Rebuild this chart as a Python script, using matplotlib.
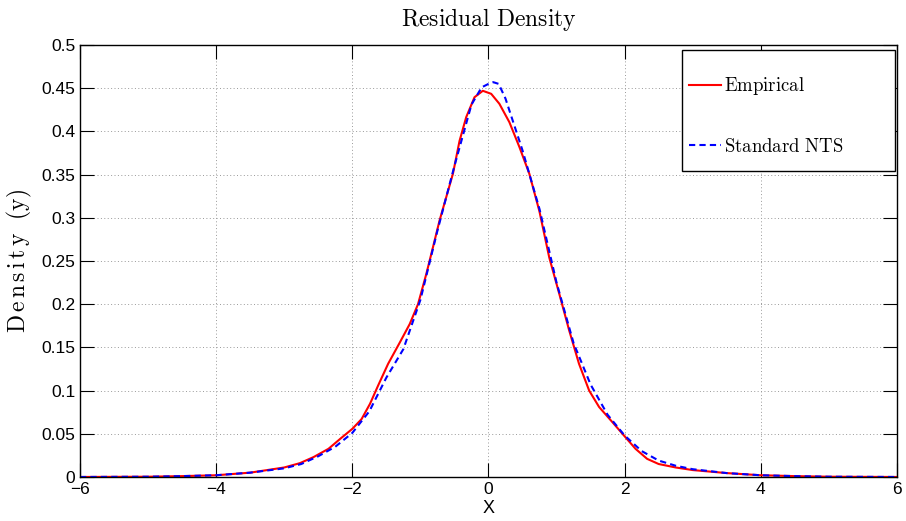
import numpy as np
import matplotlib
matplotlib.use("Agg")
import matplotlib.pyplot as plt
from matplotlib.patches import Rectangle

plt.rcParams["mathtext.fontset"] = "cm"
plt.rcParams["font.family"] = "Liberation Sans"

# empirical residual density
emp_x = [-6, -5, -4.5, -4, -3.5, -3, -2.77, -2.57, -2.35, -2.18, -2.0, -1.864, -1.74,
         -1.62, -1.474, -1.30, -1.157, -1.035, -0.913, -0.815, -0.718, -0.62, -0.522,
         -0.425, -0.327, -0.205, -0.083, 0.04, 0.16, 0.307, 0.454, 0.60, 0.747, 0.893,
         1.04, 1.186, 1.33, 1.479, 1.625, 1.82, 1.99, 2.16, 2.33, 2.5, 2.75, 3, 3.5,
         4, 4.5, 5, 6]
emp_y = [0, 0.0003, 0.001, 0.002, 0.005, 0.011, 0.016, 0.023, 0.0326, 0.044, 0.0557,
         0.067, 0.0847, 0.106, 0.131, 0.156, 0.177, 0.2, 0.235, 0.266, 0.297, 0.324,
         0.351, 0.389, 0.4165, 0.4396, 0.447, 0.4435, 0.432, 0.4107, 0.382, 0.351,
         0.308, 0.254, 0.212, 0.1695, 0.131, 0.100, 0.081, 0.0635, 0.048, 0.0326,
         0.021, 0.015, 0.011, 0.008, 0.0045, 0.002, 0.001, 0.0003, 0]

# standard NTS density
nts_x = [-6, -5, -4.5, -4, -3.5, -3, -2.75, -2.5, -2.25, -2, -1.75, -1.5, -1.25, -1,
         -0.75, -0.5, -0.25, -0.1, 0, 0.07, 0.15, 0.25, 0.5, 0.75, 1, 1.25, 1.5, 1.75,
         2, 2.25, 2.5, 2.75, 3, 3.5, 4, 4.5, 5, 6]
nts_y = [0, 0.0003, 0.001, 0.002, 0.005, 0.010, 0.015, 0.024, 0.035, 0.051, 0.076,
         0.115, 0.148, 0.205, 0.285, 0.36, 0.431, 0.451, 0.455, 0.457, 0.455, 0.438,
         0.378, 0.31, 0.225, 0.155, 0.107, 0.072, 0.048, 0.030, 0.019, 0.013, 0.009,
         0.0045, 0.002, 0.001, 0.0003, 0]

xticks = [-6, -4, -2, 0, 2, 4, 6]
yticks = [0, 0.05, 0.1, 0.15, 0.2, 0.25, 0.3, 0.35, 0.4, 0.45, 0.5]
ytick_labels = ["0", "0.05", "0.1", "0.15", "0.2", "0.25", "0.3", "0.35", "0.4", "0.45", "0.5"]

fig = plt.figure(figsize=(9.06, 5.21), dpi=100)
ax = fig.add_axes([0.0883, 0.0845, 0.9017, 0.8291])

ax.plot(emp_x, emp_y, color="red", lw=1.5, label=r"$\mathrm{Empirical}$")
ax.plot(nts_x, nts_y, color="blue", lw=1.5, linestyle=(0, (3, 2)),
        label=r"$\mathrm{Standard\ NTS}$")

ax.set_xlim(-6, 6)
ax.set_ylim(0, 0.5)
ax.set_xticks(xticks)
ax.set_yticks(yticks)
ax.set_yticklabels(ytick_labels)
ax.tick_params(direction="in", top=True, right=True, labelsize=12.5, length=10, width=0.8)
ax.grid(True, linestyle=(0, (1, 2.5)), color="#999999", lw=0.7)
for s in ax.spines.values():
    s.set_linewidth(1.0)

ax.set_title(r"$\mathrm{Residual\ Density}$", fontsize=17, pad=14)
ax.set_ylabel(r"$\mathrm{D\,e\,n\,s\,i\,t\,y\ \ (y)}$", fontsize=17, labelpad=5)
ax.set_xlabel("X", fontsize=13, labelpad=2)

# legend box drawn by hand (MATLAB style)
ax.add_patch(Rectangle((0.7369, 0.7083), 0.2607, 0.2801, transform=ax.transAxes,
                       facecolor="white", edgecolor="black", lw=1.0, zorder=4))
leg = ax.legend(loc="upper left", bbox_to_anchor=(0.7454, 0.930), frameon=False,
                fontsize=13.5, labelspacing=2.15, handlelength=1.7, handletextpad=0.15,
                borderpad=0, borderaxespad=0)
leg.set_zorder(5)

fig.savefig("out.png", dpi=100)
